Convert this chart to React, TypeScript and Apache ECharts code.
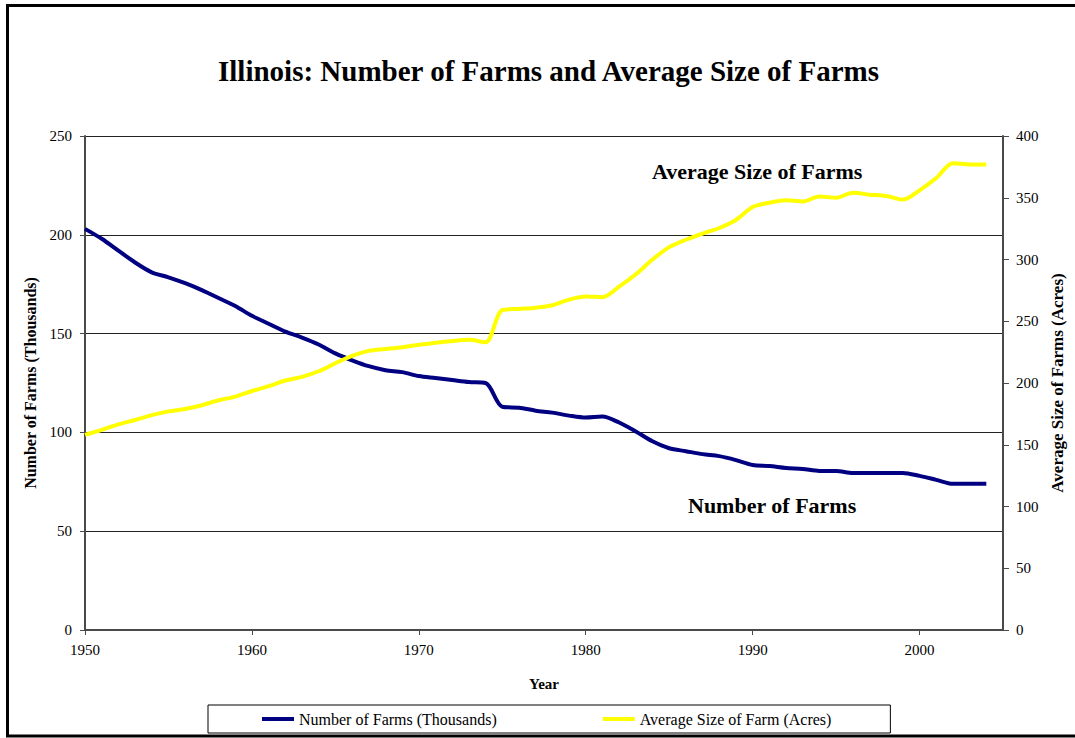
import React, { useEffect, useRef } from "react";
import * as echarts from "echarts";

const years = [
  1950, 1951, 1952, 1953, 1954, 1955, 1956, 1957, 1958, 1959,
  1960, 1961, 1962, 1963, 1964, 1965, 1966, 1967, 1968, 1969,
  1970, 1971, 1972, 1973, 1974, 1975, 1976, 1977, 1978, 1979,
  1980, 1981, 1982, 1983, 1984, 1985, 1986, 1987, 1988, 1989,
  1990, 1991, 1992, 1993, 1994, 1995, 1996, 1997, 1998, 1999,
  2000, 2001, 2002, 2003, 2004,
];

const numberOfFarms = [
  203, 198, 192, 186, 181, 178.5, 175.5, 172, 168, 164,
  159, 155, 151, 148, 144.5, 140, 136.5, 133.5, 131.5, 130.5,
  128.5, 127.5, 126.5, 125.5, 125, 113, 112.5, 111, 110, 108.5,
  107.5, 108, 105, 100.5, 95.5, 92, 90.5, 89, 88, 86,
  83.5, 83, 82, 81.5, 80.5, 80.5, 79.5, 79.5, 79.5, 79.5,
  78, 76, 74, 74, 74,
];

const averageSize = [
  158, 162, 166.5, 170, 174, 177, 179, 182, 186, 189,
  193.5, 197.5, 202, 205, 209.5, 216, 222, 226, 227.5, 229,
  231, 232.5, 234, 235, 233, 259, 260, 261, 263, 267.5,
  270, 269.5, 278, 288, 300, 310, 316, 321, 325.5, 332,
  342.5, 346, 348, 347, 351, 350, 354, 352.5, 351.5, 348.5,
  356, 366, 378, 377, 377,
];

const seriesNames = ["Number of Farms (Thousands)", "Average Size of Farm (Acres)"];
const FONT = '"Liberation Serif", "Times New Roman", serif';

export default function App() {
  const ref = useRef<HTMLDivElement>(null);

  useEffect(() => {
    if (!ref.current) return;
    const chart = echarts.init(ref.current, undefined, { renderer: "svg" });
    const farmsData = years.map((y, i) => [y, numberOfFarms[i]]);
    const sizeData = years.map((y, i) => [y, averageSize[i]]);
    const axisLineStyle = { color: "#4a4a4a", width: 2 };
    const labelStyle = { fontFamily: FONT, fontSize: 15, color: "#000" };
    const nameStyle = { fontFamily: FONT, fontSize: 15, fontWeight: "bold" as const, color: "#000" };

    chart.setOption({
      animation: false,
      backgroundColor: "#fff",
      title: {
        text: "Illinois: Number of Farms and Average Size of Farms",
        left: 543.5,
        top: 51,
        textAlign: "center",
        textStyle: { fontFamily: FONT, fontSize: 29, fontWeight: "bold", color: "#000" },
      },
      grid: { left: 85, right: 72, top: 136, bottom: 108 },
      legend: {
        left: 208,
        top: 705,
        padding: [6, 59, 6, 54],
        itemGap: 106,
        itemWidth: 32,
        itemHeight: 4,
        icon: "rect",
        borderColor: "#000",
        borderWidth: 1,
        data: seriesNames,
        textStyle: { fontFamily: FONT, fontSize: 16, color: "#000" },
      },
      xAxis: {
        type: "value",
        min: 1950,
        max: 2005,
        interval: 10,
        name: "Year",
        nameLocation: "middle",
        nameGap: 46,
        nameTextStyle: nameStyle,
        axisLine: { show: true, lineStyle: axisLineStyle },
        axisTick: { show: true, length: 5, lineStyle: { color: "#4a4a4a", width: 1 } },
        axisLabel: { ...labelStyle, margin: 12, showMaxLabel: false, formatter: (v: number) => String(v) },
        splitLine: { show: false },
      },
      yAxis: [
        {
          type: "value",
          min: 0,
          max: 250,
          interval: 50,
          name: "Number of Farms (Thousands)",
          nameLocation: "middle",
          nameGap: 47,
          nameTextStyle: { ...nameStyle, fontSize: 16 },
          axisLine: { show: true, lineStyle: axisLineStyle },
          axisTick: { show: true, length: 5, lineStyle: { color: "#4a4a4a", width: 1 } },
          axisLabel: { ...labelStyle, margin: 13 },
          splitLine: { show: true, lineStyle: { color: "#222", width: 1 } },
        },
        {
          type: "value",
          min: 0,
          max: 400,
          interval: 50,
          position: "right",
          name: "Average Size of Farms (Acres)",
          nameLocation: "middle",
          nameGap: 44,
          nameTextStyle: { ...nameStyle, fontSize: 17 },
          axisLine: { show: true, lineStyle: axisLineStyle },
          axisTick: { show: true, length: 6, lineStyle: { color: "#4a4a4a", width: 1 } },
          axisLabel: { ...labelStyle, margin: 13 },
          splitLine: { show: false },
        },
      ],
      series: [
        {
          name: seriesNames[0],
          type: "line",
          yAxisIndex: 0,
          data: farmsData,
          smooth: 0.3,
          symbol: "none",
          lineStyle: { color: "#000080", width: 4 },
          itemStyle: { color: "#000080" },
        },
        {
          name: seriesNames[1],
          type: "line",
          yAxisIndex: 1,
          data: sizeData,
          smooth: 0.3,
          symbol: "none",
          lineStyle: { color: "#FFFF00", width: 4 },
          itemStyle: { color: "#FFFF00" },
        },
      ],
      graphic: [
        {
          type: "rect",
          shape: { x: 7.5, y: 5.5, width: 1090, height: 730.5 },
          style: { fill: "none", stroke: "#000", lineWidth: 3 },
          silent: true,
          z: 100,
        },
        {
          type: "text",
          x: 652,
          y: 171,
          style: {
            text: "Average Size of Farms",
            font: `bold 22px ${FONT}`,
            fill: "#000",
            align: "left",
            verticalAlign: "middle",
          },
        },
        {
          type: "text",
          x: 688,
          y: 505,
          style: {
            text: "Number of Farms",
            font: `bold 22px ${FONT}`,
            fill: "#000",
            align: "left",
            verticalAlign: "middle",
          },
        },
      ],
    });

    return () => chart.dispose();
  }, []);

  return (
    <div
      ref={ref}
      style={{ position: "fixed", left: 0, top: 0, width: 1075, height: 738 }}
    />
  );
}
